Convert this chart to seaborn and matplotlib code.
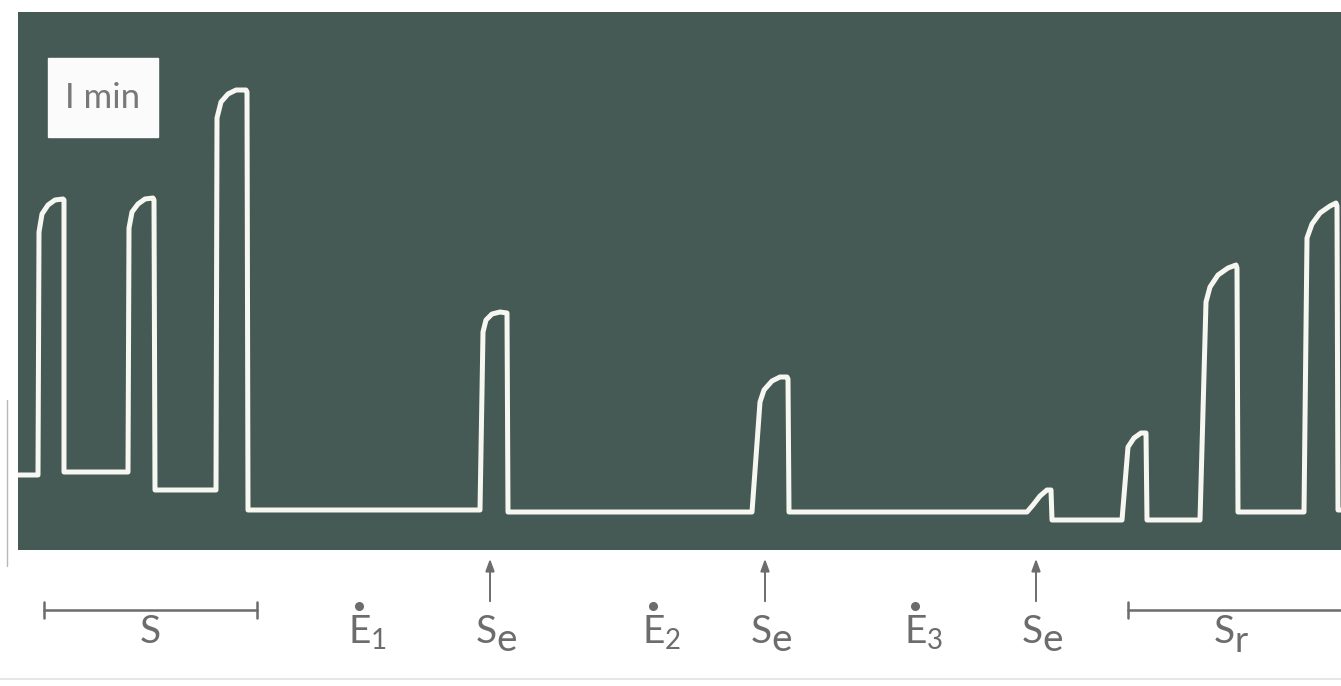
import matplotlib
matplotlib.use("Agg")
import matplotlib.pyplot as plt
import numpy as np
import pandas as pd
import seaborn as sns

# Recorder trace: time (chart units) and pen deflection (chart units above the panel floor)
time = [18, 38, 39, 42, 48, 55, 63, 64, 64, 128, 129, 132, 138, 145, 153, 154, 155,
        216, 217, 221, 228, 236, 246, 247, 248, 480, 483, 486, 492, 500, 507, 508,
        752, 760, 764, 772, 780, 787, 788, 789, 1027, 1033, 1040, 1047, 1051, 1052,
        1122, 1128, 1134, 1141, 1146, 1147, 1200, 1206, 1210, 1218, 1228, 1236, 1237,
        1238, 1304, 1307, 1312, 1320, 1330, 1336, 1337, 1338, 1350]
deflection_px = [475, 475, 232, 214, 205, 200, 199, 200, 472, 472, 228, 212, 204, 199, 198, 200, 490,
                 490, 118, 102, 94, 90, 90, 92, 510, 510, 332, 320, 314, 312, 313, 512,
                 512, 402, 390, 381, 377, 377, 379, 512, 512, 505, 496, 490, 490, 520,
                 520, 447, 438, 433, 433, 520, 520, 302, 287, 275, 268, 265, 268,
                 512, 512, 238, 224, 213, 206, 203, 206, 510, 510]
signal = [550 - v for v in deflection_px]

# Event markers below the record
event_labels = ["1", "2", "3"]
event_x = [360, 654, 916]
stim_x = [490, 765, 1036]
s_bar = (44, 257)
sr_bar = (1128, 1345)

W, H = 1341, 686
PANEL = "#45584f"
PANEL = "#465a55"
TRACE = "#f7f7f2"
INK = "#6c6c6c"

sns.set_theme(style="white")
plt.rcParams["font.family"] = ["Lato", "DejaVu Sans"]

fig = plt.figure(figsize=(W / 100, H / 100), dpi=100)
fig.patch.set_facecolor("white")

# Dark recording panel
ax = fig.add_axes([18 / W, (H - 550) / H, (W - 18) / W, (550 - 12) / H])
ax.set_facecolor(PANEL)
df = pd.DataFrame({"t": time, "y": signal})
sns.lineplot(data=df, x="t", y="y", sort=False, estimator=None, ax=ax,
             color=TRACE, linewidth=3.6, solid_joinstyle="round", solid_capstyle="round")
ax.set_xlim(18, W)
ax.set_ylim(0, 538)
ax.set_axis_off()
ax.add_patch(plt.Rectangle((0, 0), 1, 1, transform=ax.transAxes, color=PANEL, zorder=-5))

# Time calibration label
ax.add_patch(plt.Rectangle((48, 550 - 137), 110, 79, color="#fbfbfb", zorder=3))
ax.text(103, 550 - 98, "I min", ha="center", va="center", fontsize=25, color="#787878",
        zorder=4)

# Annotation layer in figure pixel units
ov = fig.add_axes([0, 0, 1, 1])
ov.set_xlim(0, W)
ov.set_ylim(H, 0)
ov.set_axis_off()
ov.patch.set_alpha(0)

fs = 28
def bar(x0, x1, y=610):
    ov.plot([x0, x1], [y, y], color=INK, lw=1.8)
    for xx in (x0, x1):
        ov.plot([xx, xx], [y - 8, y + 8], color=INK, lw=1.8)

bar(*s_bar)
ov.text((s_bar[0] + s_bar[1]) / 2, 643, "S", ha="center", va="baseline", fontsize=fs, color=INK)
bar(*sr_bar)
ov.text(1224, 643, "S", ha="center", va="baseline", fontsize=fs, color=INK)
ov.text(1235, 652, "r", ha="left", va="baseline", fontsize=fs - 2, color=INK)

for lab, x in zip(event_labels, event_x):
    ov.text(x, 643, "E", ha="center", va="baseline", fontsize=fs, color=INK)
    ov.plot([x - 1], [606], marker="o", ms=5.5, color=INK)
    ov.text(x + 11, 649, lab, ha="left", va="baseline", fontsize=fs - 8, color=INK)

for x in stim_x:
    ov.annotate("", xy=(x, 556), xytext=(x, 604),
                arrowprops=dict(arrowstyle="-|>,head_length=0.6,head_width=0.22",
                                color=INK, lw=1.4))
    ov.text(x - 4, 643, "S", ha="center", va="baseline", fontsize=fs, color=INK)
    ov.text(x + 6, 651, "e", ha="left", va="baseline", fontsize=fs, color=INK)

# Faint page edges
ov.plot([0, W], [679, 679], color="#e2e2e2", lw=1.2)
ov.plot([7, 7], [400, 566], color="#b8b8b8", lw=1)

fig.savefig("out.png", dpi=100, facecolor="white")
